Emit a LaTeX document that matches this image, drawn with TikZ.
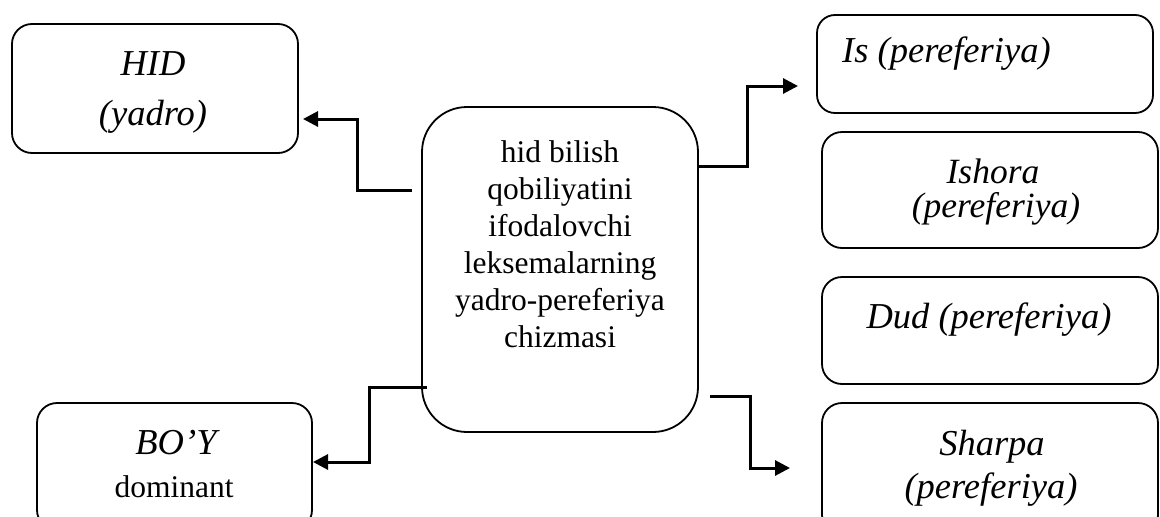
\documentclass[tikz,border=0pt]{standalone}
\usepackage{fontspec}
\setmainfont{Liberation Serif}
\usetikzlibrary{arrows.meta}
\tikzset{
  box/.style={draw=black, line width=1.8pt, rounded corners=20pt, rectangle, inner sep=0pt},
  conn/.style={draw=black, line width=3pt, -{Triangle[length=15pt,width=15pt]}},
  itxt/.style={font=\fontsize{36.5}{40}\selectfont\itshape, inner sep=0pt, anchor=base},
  rtxt/.style={font=\fontsize{31.5}{36.9}\selectfont, inner sep=0pt, anchor=base},
}
\begin{document}
\begin{tikzpicture}[x=1pt,y=-1pt]
\useasboundingbox (0,0) rectangle (1160,517);
\clip (0,0) rectangle (1160,517);
% boxes
\node[box, minimum width=286pt, minimum height=129pt] (hid) at (155,88.5) {};
\node[box, rounded corners=45pt, minimum width=276pt, minimum height=325pt] (ctr) at (560,269.5) {};
\node[box, rounded corners=18pt, minimum width=336pt, minimum height=98pt] (is) at (985,64) {};
\node[box, minimum width=336pt, minimum height=116pt] (ishora) at (990,190) {};
\node[box, minimum width=336pt, minimum height=107pt] (dud) at (990,330.5) {};
\node[box, minimum width=336pt, minimum height=132pt] (sharpa) at (990,469) {};
\node[box, minimum width=275pt, minimum height=127pt] (boy) at (174.5,466.5) {};
% texts
\node[itxt] (hidA) at (153,75) {HID};
\node[itxt] (hidB) at (153,125) {(yadro)};
\node[rtxt, align=center, anchor=center] (ctrT) at (560,244) {hid bilish\\qobiliyatini\\ifodalovchi\\leksemalarning\\yadro-pereferiya\\chizmasi};
\node[itxt, anchor=base west] (isT) at (842,62) {Is (pereferiya)};
\node[itxt, font=\fontsize{35.5}{38}\selectfont\itshape] (ishA) at (993,183) {Ishora};
\node[itxt, font=\fontsize{35.5}{38}\selectfont\itshape] (ishB) at (996,217) {(pereferiya)};
\node[itxt] (dudT) at (989,328) {Dud (pereferiya)};
\node[itxt] (shA) at (992,455) {Sharpa};
\begin{scope}
\clip (800,470) rectangle (1160,506);
\node[itxt] (shB) at (991,498) {(pereferiya)};
\end{scope}
\node[itxt] (boyA) at (176,454) {BO’Y};
\node[rtxt] (boyB) at (174,497) {dominant};
% connectors
\coordinate (s1) at (412,190);
\coordinate (t1) at (303,119);
\coordinate (s2) at (697,166);
\coordinate (t2) at (798,86);
\coordinate (s3) at (710,396);
\coordinate (t3) at (790,468);
\coordinate (s4) at (427,387);
\coordinate (t4) at (313,462);
\draw[conn] (s1) -- (s1 -| 357,0) |- (t1);
\draw[conn] (s2) -- (s2 -| 747,0) |- (t2);
\draw[conn] (s3) -- (s3 -| 750,0) |- (t3);
\draw[conn] (s4) -- (s4 -| 369,0) |- (t4);
\end{tikzpicture}
\end{document}
